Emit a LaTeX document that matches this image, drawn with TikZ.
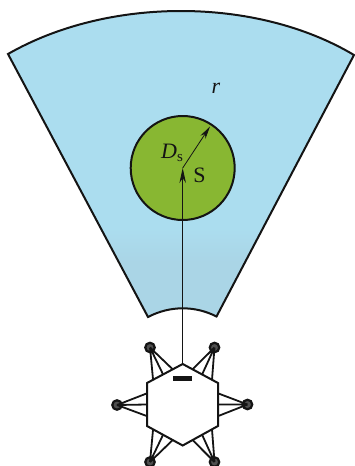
\documentclass[tikz,border=0pt]{standalone}
\usepackage{fontspec}
\setmainfont{Liberation Serif}
\usetikzlibrary{arrows.meta,calc}
\definecolor{skyfill}{HTML}{ABDDEF}
\definecolor{skylow}{HTML}{AAD5E6}
\definecolor{greenfill}{HTML}{88B732}
\definecolor{inkline}{HTML}{141414}
\tikzset{
  sectoredge/.style={draw=inkline,line width=2pt,line join=miter},
  armline/.style={draw=inkline,line width=1.8pt},
  motorball/.style={circle,draw=inkline,fill=inkline!75,line width=2.2pt,minimum size=9.5pt,inner sep=0pt},
  thinaxis/.style={draw=inkline,line width=0.8pt},
  axisarrow/.style={thinaxis,-{Stealth[length=15pt,width=6.5pt]}},
  lab/.style={inner sep=0pt,text=inkline,font=\fontsize{22}{22}\selectfont}
}
\begin{document}
\begin{tikzpicture}[x=1pt,y=-1pt]
\useasboundingbox (0,0) rectangle (354,466);
\path[fill=skyfill] (8,54) .. controls (108,-3.5) and (256,-3.5) .. (354,55) -- (216.5,316.5) .. controls (195,305.5) and (170,305.5) .. (148,317) -- cycle;
\begin{scope}
\clip (8,54) .. controls (108,-3.5) and (256,-3.5) .. (354,55) -- (216.5,316.5) .. controls (195,305.5) and (170,305.5) .. (148,317) -- cycle;
\shade[top color=skyfill,bottom color=skylow] (0,228) rectangle (354,262);
\fill[skylow] (0,262) rectangle (354,320);
\end{scope}
\path[sectoredge] (8,54) .. controls (108,-3.5) and (256,-3.5) .. (354,55) -- (216.5,316.5) .. controls (195,305.5) and (170,305.5) .. (148,317) -- cycle;
% target disc
\node[circle,draw=inkline,fill=greenfill,line width=2pt,minimum size=104pt,inner sep=0pt] (disc) at (182.7,168) {};
\coordinate (S) at (182.7,168);
\coordinate (rim) at (210,126.5);
% hexagon
\coordinate (ht) at (182.7,364);
\coordinate (hur) at (218,383);
\coordinate (hlr) at (218,426);
\coordinate (hb) at (182.7,445.5);
\coordinate (hll) at (147,426);
\coordinate (hul) at (147,383);
% motors
\node[motorball] (m1) at (150,347.5) {};
\node[motorball] (m2) at (214.5,347.5) {};
\node[motorball] (m3) at (117,405) {};
\node[motorball] (m4) at (247.5,404.5) {};
\node[motorball] (m5) at (150,462) {};
\node[motorball] (m6) at (214.5,462) {};
% arms
\draw[armline] (m1.center) -- ($(hul)!0.17!(ht)$) (m1.center) -- ($(hul)!0.45!(ht)$) (m1.center) -- ($(hul)!0.72!(ht)$);
\draw[armline] (m2.center) -- ($(hur)!0.17!(ht)$) (m2.center) -- ($(hur)!0.45!(ht)$) (m2.center) -- ($(hur)!0.72!(ht)$);
\draw[armline] (m3.center) -- ($(hul)!0.24!(hll)$) (m3.center) -- ($(hul)!0.5!(hll)$) (m3.center) -- ($(hul)!0.77!(hll)$);
\draw[armline] (m4.center) -- ($(hur)!0.24!(hlr)$) (m4.center) -- ($(hur)!0.5!(hlr)$) (m4.center) -- ($(hur)!0.77!(hlr)$);
\draw[armline] (m5.center) -- ($(hll)!0.17!(hb)$) (m5.center) -- ($(hll)!0.45!(hb)$) (m5.center) -- ($(hll)!0.72!(hb)$);
\draw[armline] (m6.center) -- ($(hlr)!0.17!(hb)$) (m6.center) -- ($(hlr)!0.45!(hb)$) (m6.center) -- ($(hlr)!0.72!(hb)$);
\path[draw=inkline,fill=white,line width=2pt,line join=miter] (ht) -- (hur) -- (hlr) -- (hb) -- (hll) -- (hul) -- cycle;
% axes
\draw[axisarrow] (ht) -- (S);
\draw[axisarrow,-{Stealth[length=13pt,width=6pt]}] (S) -- (rim);
% sensor bar
\node[fill=inkline,minimum width=18.5pt,minimum height=4.5pt,inner sep=0pt] (bar) at (182.3,378.7) {};
% labels
\node[lab] (lr) at (216,88.5) {\itshape r};
\node[lab] (lds) at (172,153) {\textit{D}{\fontsize{15}{15}\selectfont\raisebox{-3pt}{s}}};
\node[lab] (ls) at (199.5,175.5) {S};
\end{tikzpicture}
\end{document}
